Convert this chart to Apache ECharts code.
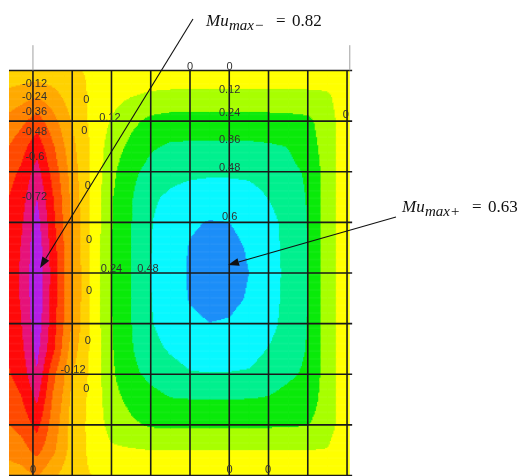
<!DOCTYPE html>
<html>
<head>
<meta charset="utf-8">
<title>Mu contours</title>
<script src="https://cdn.jsdelivr.net/npm/echarts@6.0.0/dist/echarts.min.js"></script>
<style>
html, body { margin: 0; padding: 0; background: #ffffff; }
#chart { width: 524px; height: 476px; }
</style>
</head>
<body>
<div id="chart"></div>
<script>
// Node positions of the strip mesh (one unit = one mesh division)
const xNodes = [-0.61, -0.3, 0.1, 0.5, 0.8, 1, 1.5, 2, 2.5, 3, 3.5, 4, 4.5, 5, 5.5, 6, 6.5, 7, 7.5, 8.05];
const yNodes = [0, 0.5, 1, 1.5, 2, 2.5, 3, 3.5, 4, 4.5, 5, 5.5, 6, 6.5, 7, 7.5, 8];

// Nodal bending moment Mu (one row per yNodes entry, one column per xNodes entry)
const muRow00 = [-0.03, -0.03, -0.04, -0.03, -0.02, -0.01, 0.01, 0.02, 0.03, 0.03, 0.03, 0.03, 0.03, 0.03, 0.03, 0.03, 0.03, 0.03, 0.03, 0.02];
const muRow01 = [-0.16, -0.19, -0.23, -0.17, -0.10, -0.06, 0.02, 0.08, 0.115, 0.14, 0.15, 0.15, 0.15, 0.15, 0.15, 0.15, 0.15, 0.15, 0.14, 0.03];
const muRow02 = [-0.28, -0.33, -0.42, -0.29, -0.18, -0.11, 0.03, 0.13, 0.21, 0.27, 0.288, 0.29, 0.29, 0.29, 0.29, 0.287, 0.281, 0.267, 0.176, 0.03];
const muRow03 = [-0.36, -0.43, -0.555, -0.38, -0.245, -0.15, 0.02, 0.18, 0.27, 0.345, 0.375, 0.38, 0.382, 0.382, 0.38, 0.372, 0.357, 0.30, 0.181, 0.03];
const muRow04 = [-0.44, -0.50, -0.65, -0.44, -0.29, -0.18, 0.02, 0.21, 0.33, 0.40, 0.44, 0.455, 0.46, 0.46, 0.455, 0.43, 0.39, 0.345, 0.182, 0.03];
const muRow05 = [-0.48, -0.55, -0.72, -0.49, -0.32, -0.20, 0.02, 0.23, 0.35, 0.46, 0.50, 0.53, 0.545, 0.54, 0.525, 0.475, 0.42, 0.352, 0.182, 0.03];
const muRow06 = [-0.51, -0.58, -0.77, -0.52, -0.34, -0.22, 0.025, 0.235, 0.357, 0.472, 0.546, 0.589, 0.605, 0.60, 0.579, 0.518, 0.442, 0.357, 0.183, 0.03];
const muRow07 = [-0.53, -0.605, -0.805, -0.545, -0.355, -0.235, 0.03, 0.24, 0.36, 0.477, 0.557, 0.606, 0.624, 0.618, 0.594, 0.527, 0.446, 0.359, 0.183, 0.03];
const muRow08 = [-0.54, -0.615, -0.82, -0.555, -0.365, -0.24, 0.03, 0.24, 0.36, 0.48, 0.56, 0.61, 0.63, 0.625, 0.60, 0.53, 0.45, 0.36, 0.18, 0.03];
const muRow09 = [-0.54, -0.61, -0.815, -0.55, -0.36, -0.24, 0.03, 0.24, 0.36, 0.477, 0.557, 0.606, 0.624, 0.618, 0.594, 0.527, 0.446, 0.359, 0.183, 0.03];
const muRow10 = [-0.525, -0.595, -0.795, -0.54, -0.35, -0.23, 0.03, 0.235, 0.357, 0.47, 0.542, 0.584, 0.599, 0.594, 0.573, 0.515, 0.441, 0.357, 0.183, 0.03];
const muRow11 = [-0.50, -0.57, -0.76, -0.515, -0.31, -0.18, 0.03, 0.23, 0.35, 0.44, 0.495, 0.535, 0.545, 0.542, 0.53, 0.475, 0.426, 0.351, 0.182, 0.03];
const muRow12 = [-0.47, -0.53, -0.71, -0.40, -0.25, -0.12, 0.03, 0.22, 0.33, 0.39, 0.43, 0.47, 0.475, 0.473, 0.466, 0.42, 0.38, 0.339, 0.182, 0.03];
const muRow13 = [-0.42, -0.47, -0.62, -0.35, -0.21, -0.08, 0.03, 0.20, 0.27, 0.32, 0.354, 0.358, 0.359, 0.359, 0.357, 0.35, 0.32, 0.306, 0.18, 0.03];
const muRow14 = [-0.36, -0.40, -0.52, -0.31, -0.18, -0.06, 0.03, 0.17, 0.22, 0.255, 0.257, 0.258, 0.258, 0.258, 0.258, 0.256, 0.253, 0.245, 0.173, 0.03];
const muRow15 = [-0.28, -0.31, -0.40, -0.27, -0.16, -0.05, 0.02, 0.10, 0.11, 0.12, 0.12, 0.12, 0.12, 0.12, 0.12, 0.12, 0.12, 0.12, 0.115, 0.02];
const muRow16 = [-0.18, -0.19, -0.25, -0.15, -0.08, -0.02, 0.00, 0.00, 0.00, 0.00, 0.00, 0.00, 0.00, 0.00, 0.00, 0.00, 0.00, 0.00, 0.00, 0.00];
const muRows = [muRow00, muRow01, muRow02, muRow03, muRow04, muRow05, muRow06, muRow07, muRow08,
                muRow09, muRow10, muRow11, muRow12, muRow13, muRow14, muRow15, muRow16];

// Contour band limits and the fill of each band (one more colour than limits)
const contourLevels = [-0.72, -0.6, -0.48, -0.36, -0.24, -0.12, 0, 0.12, 0.24, 0.36, 0.48, 0.6];
const bandColors = ['#b41ee6', '#e6127a', '#ff0a0a', '#ff4a00', '#ff8400', '#ffaa00', '#ffd200',
                    '#ffff00', '#a8ff00', '#0aea0a', '#00f08e', '#08f8ff', '#1c8ef8'];

// Mesh lines
const meshX = [0, 1, 2, 3, 4, 5, 6, 7, 8];
const meshY = [0, 1, 2, 3, 4, 5, 6, 7, 8];

// Contour labels and where they sit on the strip
const labelTexts = ['-0.12', '-0.24', '-0.36', '-0.48', '-0.6', '-0.72',
                    '0', '0', '0.12', '0', '0', '0.24', '0.48', '0', '0', '-0.12', '0', '0',
                    '0', '0', '0.12', '0.24', '0.36', '0.48', '0.6', '0', '0', '0'];
const labelAt = [[0.04, 0.27], [0.04, 0.53], [0.04, 0.82], [0.04, 1.22], [0.05, 1.71], [0.04, 2.49],
                 [1.36, 0.58], [1.31, 1.20], [1.96, 0.94], [1.40, 2.28], [1.43, 3.35], [2.00, 3.92],
                 [2.93, 3.92], [1.43, 4.36], [1.40, 5.34], [1.02, 5.92], [1.36, 6.29], [0.0, 7.89],
                 [4.0, -0.06], [5.01, -0.06], [5.01, 0.385], [5.01, 0.84], [5.01, 1.37], [5.01, 1.93],
                 [5.01, 2.89], [7.97, 0.88], [5.01, 7.89], [5.99, 7.89]];

// Extreme moments, taken from the nodal values
const allMu = muRows.flat();
const muMin = Math.min.apply(null, allMu);
const muMax = Math.max.apply(null, allMu);

// Call-outs for the extremes
const notes = [
  { sub: 'max\u2212', value: -muMin, textAt: [4.408, -0.972], tail: [4.076, -1.017], tip: [0.18, 3.90] },
  { sub: 'max+', value: muMax, textAt: [9.40, 2.712], tail: [9.247, 2.894], tip: [4.968, 3.842] }
];

function bandColor(m) {
  let k = 0;
  while (k < contourLevels.length && m >= contourLevels[k]) k++;
  return bandColors[k];
}

// One item per mesh cell
const cells = [];
for (let j = 0; j < yNodes.length - 1; j++) {
  for (let i = 0; i < xNodes.length - 1; i++) cells.push([i, j]);
}

// Shade a cell: bilinear field inside the cell, filled by contour band
function renderCell(params, api) {
  const i = api.value(0), j = api.value(1);
  const a = api.coord([xNodes[i], yNodes[j]]);
  const b = api.coord([xNodes[i + 1], yNodes[j + 1]]);
  const m00 = muRows[j][i], m10 = muRows[j][i + 1];
  const m01 = muRows[j + 1][i], m11 = muRows[j + 1][i + 1];
  const w = b[0] - a[0], h = b[1] - a[1];
  const nx = Math.max(2, Math.ceil(Math.abs(w) / 1.2));
  const ny = Math.max(2, Math.ceil(Math.abs(h) / 1.2));
  const children = [];
  for (let r = 0; r < ny; r++) {
    const t = (r + 0.5) / ny;
    const mL = m00 + (m01 - m00) * t;
    const mR = m10 + (m11 - m10) * t;
    let start = 0, col = null;
    for (let c = 0; c <= nx; c++) {
      const cc = c < nx ? bandColor(mL + (mR - mL) * (c + 0.5) / nx) : null;
      if (c === nx || cc !== col) {
        if (col !== null) {
          children.push({
            type: 'rect',
            shape: { x: a[0] + w * start / nx, y: a[1] + h * r / ny,
                     width: w * (c - start) / nx + 0.6, height: h / ny + 0.6 },
            style: { fill: col }
          });
        }
        start = c;
        col = cc;
      }
    }
  }
  return { type: 'group', children: children, silent: true };
}

function renderMesh(params, api) {
  const ch = [];
  const xEnd = 8.13;
  const ink = { stroke: '#1a1a1a', lineWidth: 1.6 };
  meshX.forEach(function (u) {
    const p = api.coord([u, meshY[0]]), q = api.coord([u, meshY[meshY.length - 1]]);
    ch.push({ type: 'line', shape: { x1: p[0], y1: p[1], x2: q[0], y2: q[1] + 2 }, style: ink });
  });
  meshY.forEach(function (v) {
    const p = api.coord([xNodes[0], v]), q = api.coord([xEnd, v]);
    ch.push({ type: 'line', shape: { x1: p[0], y1: p[1], x2: q[0], y2: q[1] }, style: ink });
  });
  [0, 8.07].forEach(function (u) {
    const p = api.coord([u, -0.5]), q = api.coord([u, 0]);
    ch.push({ type: 'line', shape: { x1: p[0], y1: p[1], x2: q[0], y2: q[1] },
              style: { stroke: '#a0a0a0', lineWidth: 1 } });
  });
  return { type: 'group', children: ch, silent: true };
}

function renderLabel(params, api) {
  const p = api.coord([api.value(0), api.value(1)]);
  return {
    type: 'text', x: p[0], y: p[1], silent: true,
    style: { text: labelTexts[api.value(2)], font: '11px "Liberation Sans", Arial, sans-serif',
             fill: '#303030', align: 'center', verticalAlign: 'middle' }
  };
}

function renderNote(params, api) {
  const n = notes[api.value(2)];
  const tail = api.coord(n.tail), tip = api.coord(n.tip), at = api.coord(n.textAt);
  const dx = tip[0] - tail[0], dy = tip[1] - tail[1];
  const len = Math.sqrt(dx * dx + dy * dy), ux = dx / len, uy = dy / len;
  const headL = 11, headW = 4;
  const base = [tip[0] - ux * headL, tip[1] - uy * headL];
  const serif = '"Liberation Serif", "Times New Roman", serif';
  const ink = '#111111';
  return {
    type: 'group', silent: true,
    children: [
      { type: 'line', shape: { x1: tail[0], y1: tail[1], x2: base[0], y2: base[1] },
        style: { stroke: ink, lineWidth: 1.1 } },
      { type: 'polygon',
        shape: { points: [tip, [base[0] - uy * headW, base[1] + ux * headW], [base[0] + uy * headW, base[1] - ux * headW]] },
        style: { fill: ink } },
      { type: 'text', x: at[0], y: at[1],
        style: { text: 'Mu', font: 'italic 17px ' + serif, fill: ink, verticalAlign: 'middle' } },
      { type: 'text', x: at[0] + 23, y: at[1] + 4.3,
        style: { text: n.sub, font: 'italic 15px ' + serif, fill: ink, verticalAlign: 'middle' } },
      { type: 'text', x: at[0] + 70, y: at[1],
        style: { text: '=', font: '17px ' + serif, fill: ink, verticalAlign: 'middle' } },
      { type: 'text', x: at[0] + 86, y: at[1],
        style: { text: n.value.toFixed(2), font: '17px ' + serif, fill: ink, verticalAlign: 'middle' } }
    ]
  };
}

const chart = echarts.init(document.getElementById('chart'), null, { renderer: 'canvas' });
chart.setOption({
  backgroundColor: '#ffffff',
  animation: false,
  grid: { left: 9, top: 70.5, width: 340, height: 405 },
  xAxis: { type: 'value', min: xNodes[0], max: xNodes[xNodes.length - 1], show: false },
  yAxis: { type: 'value', min: yNodes[0], max: yNodes[yNodes.length - 1], inverse: true, show: false },
  series: [
    { type: 'custom', name: 'Mu', coordinateSystem: 'cartesian2d', z: 1,
      renderItem: renderCell, data: cells },
    { type: 'custom', name: 'mesh', coordinateSystem: 'cartesian2d', z: 2,
      renderItem: renderMesh, data: [[0, 0]] },
    { type: 'custom', name: 'labels', coordinateSystem: 'cartesian2d', z: 3,
      renderItem: renderLabel, data: labelAt.map(function (p, k) { return [p[0], p[1], k]; }) },
    { type: 'custom', name: 'notes', coordinateSystem: 'cartesian2d', z: 4,
      renderItem: renderNote, data: notes.map(function (n, k) { return [n.tip[0], n.tip[1], k]; }) }
  ]
});
</script>
</body>
</html>
